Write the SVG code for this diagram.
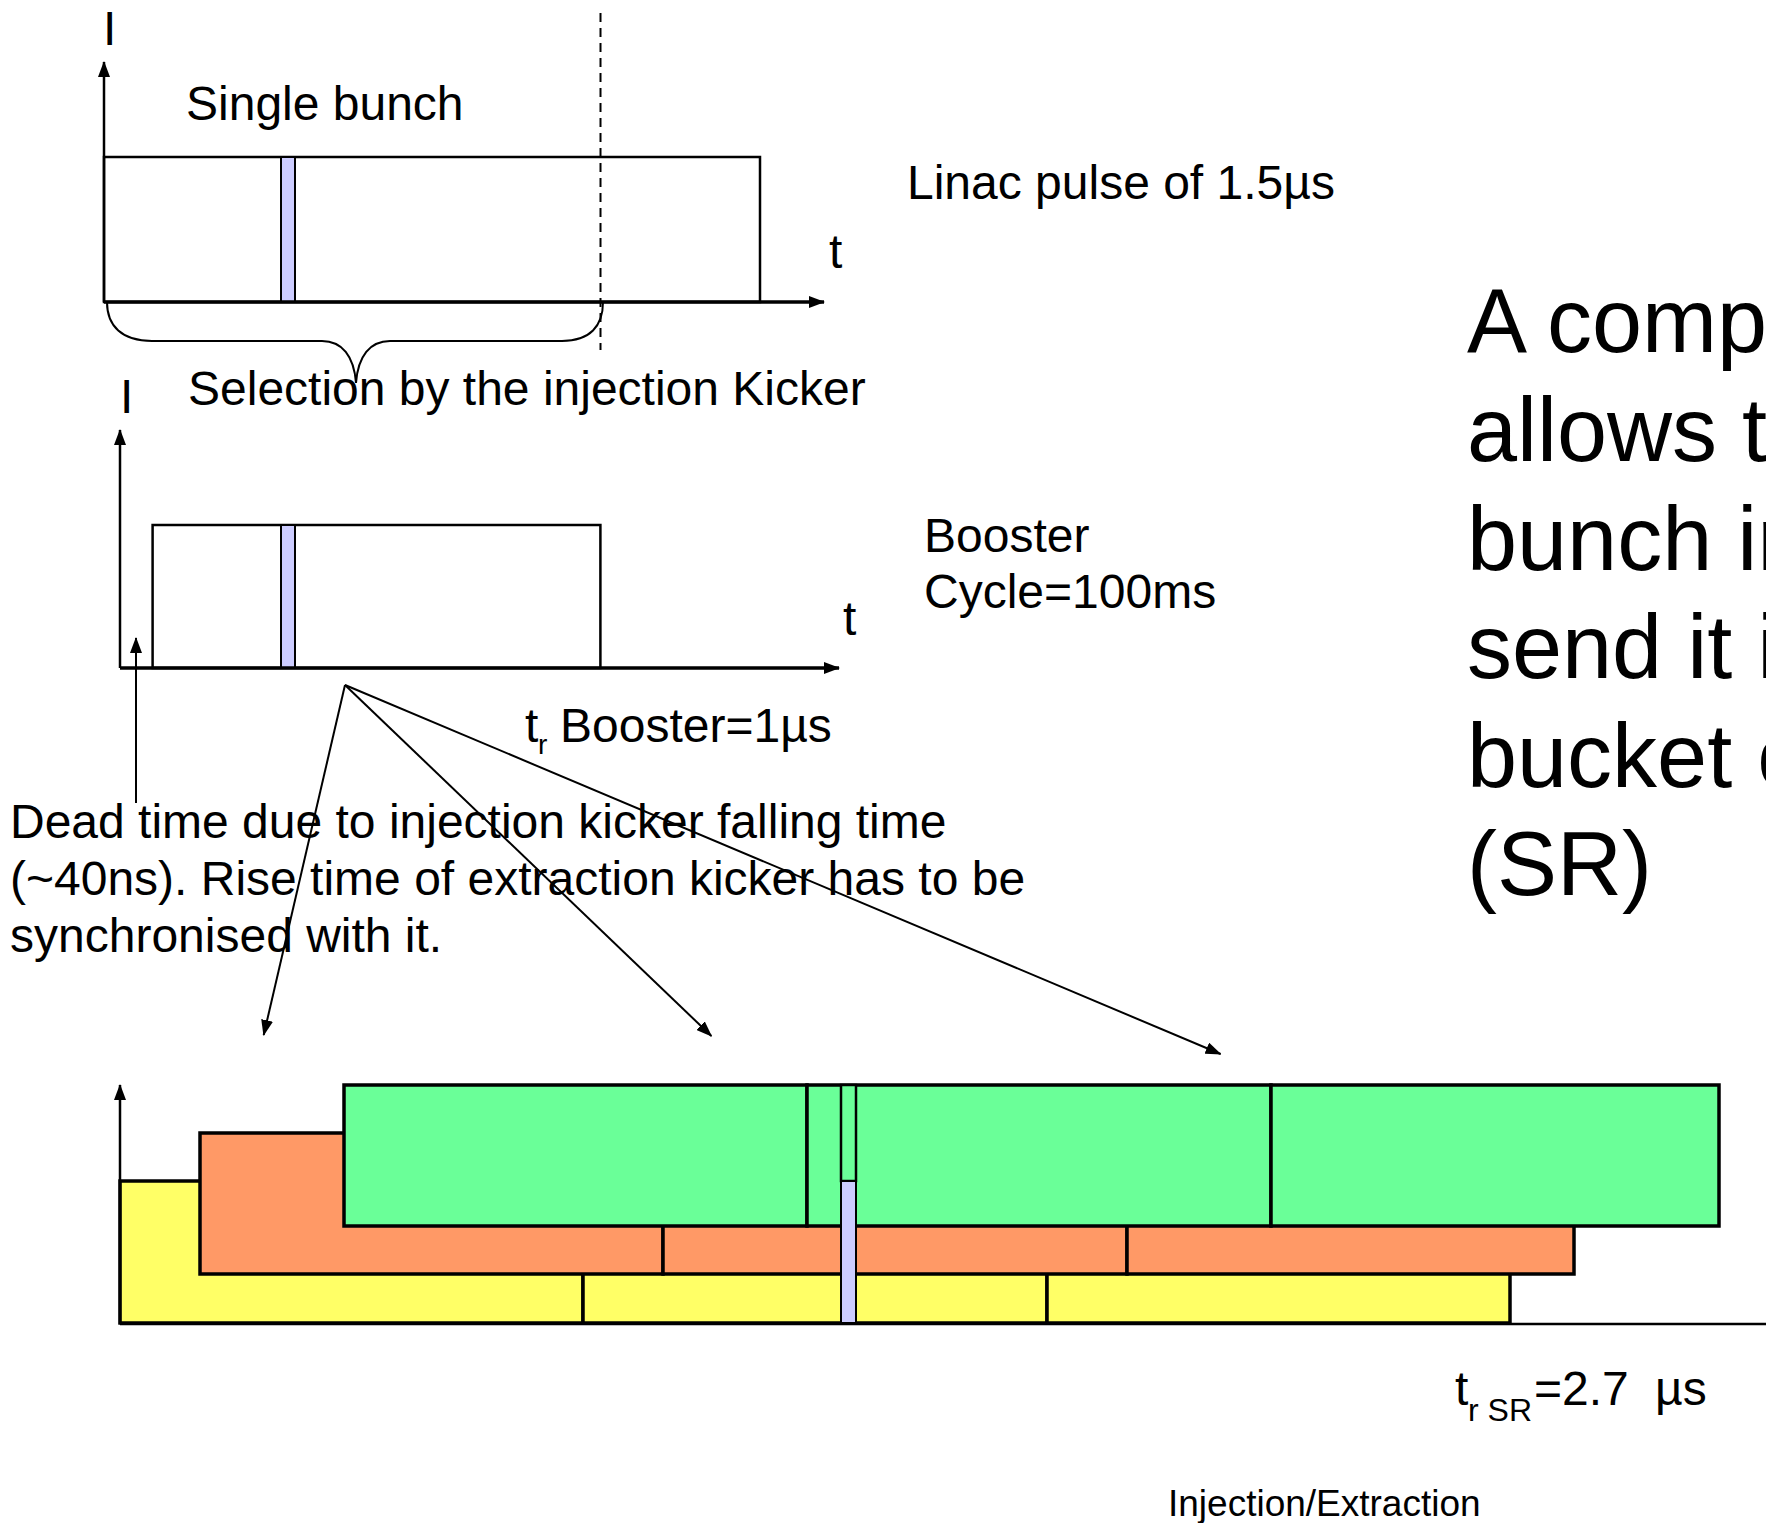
<svg xmlns="http://www.w3.org/2000/svg" width="1766" height="1523" viewBox="0 0 1766 1523">
<defs>
<style>
text{font-family:"Liberation Sans",Arial,sans-serif;fill:#000}
.t48{font-size:48px}
.sub{font-size:28px}
.sub2{font-size:32px}
.big{font-size:90px}
.ax{stroke:#000;stroke-width:2.5;fill:none}
.axh{stroke:#000;stroke-width:3.5;fill:none}
.box{fill:none;stroke:#000;stroke-width:2.5}
.bar{fill:#CCCCFF;stroke:#000;stroke-width:2}
.ln{stroke:#000;stroke-width:2;fill:none}
.y{fill:#FFFF66;stroke:#000;stroke-width:3.5}
.o{fill:#FF9966;stroke:#000;stroke-width:3.5}
.g{fill:#6AFF98;stroke:#000;stroke-width:3.5}
</style>
<marker id="ah" viewBox="0 0 16 12" refX="15" refY="6" markerWidth="16" markerHeight="12" orient="auto" markerUnits="userSpaceOnUse">
<path d="M0,0 L16,6 L0,12 z" fill="#000"/>
</marker>
</defs>
<rect width="1766" height="1523" fill="#fff"/>

<g id="chart-linac">
<rect class="box" x="104" y="157" width="656" height="145"/>
<rect class="bar" x="281" y="157" width="14" height="145"/>
<line class="ax" x1="104" y1="302" x2="104" y2="62" marker-end="url(#ah)"/>
<line class="axh" x1="104" y1="302" x2="824" y2="302" marker-end="url(#ah)"/>
<line x1="600.5" y1="13" x2="600.5" y2="350" stroke="#000" stroke-width="2" stroke-dasharray="9,6"/>
<path class="ln" d="M107,302 C107,326 122,341 152,341 L322,341 C342,341 354,356 356,383 C358,356 370,341 390,341 L562,341 C590,341 603,326 603,302"/>
<text class="t48" x="103" y="45">I</text>
<text class="t48" x="186" y="120">Single bunch</text>
<text class="t48" x="829" y="268">t</text>
<text class="t48" x="907" y="199">Linac pulse of 1.5µs</text>
<text class="t48" x="188" y="405">Selection by the injection Kicker</text>
</g>

<g id="chart-booster">
<rect class="box" x="152.6" y="525" width="447.8" height="143"/>
<rect class="bar" x="281" y="525" width="14" height="143"/>
<line class="ax" x1="120" y1="668" x2="120" y2="430" marker-end="url(#ah)"/>
<line class="axh" x1="120" y1="668" x2="839" y2="668" marker-end="url(#ah)"/>
<text class="t48" x="120" y="413">I</text>
<text class="t48" x="843" y="635">t</text>
<text class="t48" x="924" y="552">Booster</text>
<text class="t48" x="924" y="608">Cycle=100ms</text>
<text class="t48" x="525" y="742">t<tspan class="sub" x="538" y="754">r</tspan><tspan x="560" y="742">Booster=1µs</tspan></text>
</g>

<g id="dead-time">
<text class="t48" x="10" y="838">Dead time due to injection kicker falling time</text>
<text class="t48" x="10" y="895">(~40ns). Rise time of extraction kicker has to be</text>
<text class="t48" x="10" y="952">synchronised with it.</text>
</g>

<g id="chart-sr">
<rect class="y" x="120" y="1181" width="463" height="142"/>
<rect class="y" x="583" y="1181" width="464" height="142"/>
<rect class="y" x="1047" y="1181" width="463" height="142"/>
<rect class="o" x="200" y="1133" width="463" height="141"/>
<rect class="o" x="663" y="1133" width="464" height="141"/>
<rect class="o" x="1127" y="1133" width="447" height="141"/>
<rect class="g" x="344" y="1085" width="463" height="141"/>
<rect class="g" x="807" y="1085" width="464" height="141"/>
<rect class="g" x="1271" y="1085" width="448" height="141"/>
<rect x="841" y="1085" width="15" height="96" fill="#6AFF98" stroke="#000" stroke-width="2.5"/>
<rect class="bar" x="841" y="1181" width="15" height="142"/>
<line class="ax" x1="120" y1="1324" x2="120" y2="1085" marker-end="url(#ah)"/>
<line class="ax" x1="120" y1="1324" x2="1766" y2="1324"/>
<text class="t48" x="1455" y="1405">t<tspan class="sub2" x="1468" y="1421">r SR</tspan><tspan x="1534" y="1405">=2.7 </tspan><tspan x="1655" y="1405">µs</tspan></text>
<text x="1168" y="1516" style="font-size:37px">Injection/Extraction</text>
</g>

<g id="connectors">
<line class="ln" x1="136" y1="803" x2="136" y2="638" marker-end="url(#ah)"/>
<line class="ln" x1="345" y1="685" x2="263.7" y2="1035" marker-end="url(#ah)"/>
<line class="ln" x1="345" y1="685" x2="711.4" y2="1036" marker-end="url(#ah)"/>
<line class="ln" x1="345" y1="685" x2="1220.6" y2="1054" marker-end="url(#ah)"/>
</g>

<g id="summary">
<text class="big" x="1467" y="352">A comp</text>
<text class="big" x="1467" y="461">allows t</text>
<text class="big" x="1467" y="570">bunch in</text>
<text class="big" x="1467" y="678">send it i</text>
<text class="big" x="1467" y="787">bucket o</text>
<text class="big" x="1467" y="895">(SR)</text>
</g>
</svg>
